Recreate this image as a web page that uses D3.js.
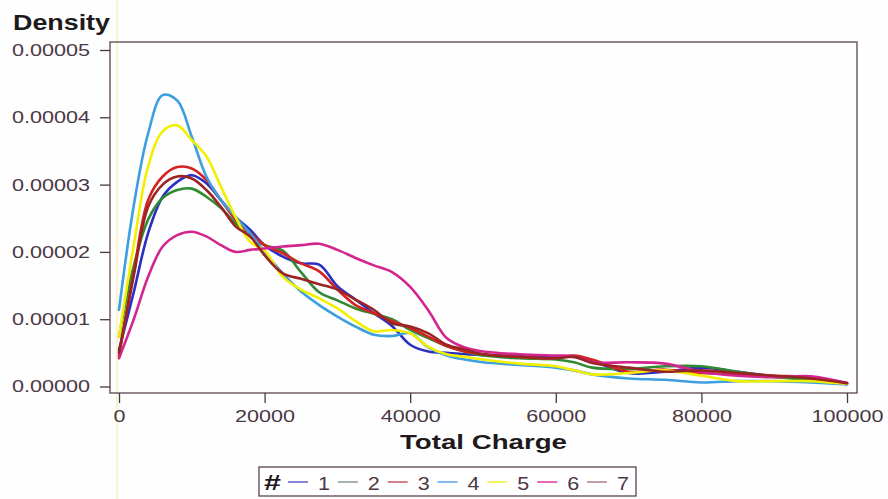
<!DOCTYPE html>
<html><head><meta charset="utf-8">
<script src="https://cdn.jsdelivr.net/npm/d3@7"></script>
<style>body{margin:0;background:#fff}svg{display:block}</style>
</head><body>
<script>
// Data (density values in units of 1e-5)
const xValues = [0,2000,4000,6000,8000,10000,12000,14000,16000,18000,20000,22500,25000,27500,30000,32500,35000,37500,40000,42500,45000,47500,50000,55000,60000,62500,65000,70000,75000,80000,85000,90000,95000,100000];
const series1 = [0.54,1.39,2.28,2.82,3.04,3.14,3.02,2.77,2.52,2.33,2.10,1.93,1.83,1.81,1.49,1.29,1.09,0.90,0.62,0.52,0.50,0.48,0.47,0.45,0.44,0.44,0.38,0.20,0.22,0.28,0.22,0.15,0.10,0.04];
const series2 = [0.74,1.78,2.48,2.80,2.92,2.94,2.82,2.65,2.43,2.23,2.10,2.02,1.70,1.40,1.28,1.16,1.08,1.00,0.84,0.72,0.60,0.52,0.46,0.42,0.40,0.36,0.28,0.26,0.30,0.30,0.22,0.14,0.10,0.04];
const series3 = [0.45,1.68,2.77,3.12,3.26,3.24,3.07,2.77,2.48,2.28,2.10,1.98,1.83,1.71,1.44,1.21,1.09,0.97,0.87,0.74,0.60,0.52,0.48,0.44,0.42,0.46,0.40,0.22,0.25,0.20,0.18,0.16,0.14,0.05];
const series4 = [1.14,2.67,3.76,4.33,4.25,3.71,3.12,2.77,2.52,2.28,2.00,1.68,1.41,1.21,1.04,0.89,0.77,0.75,0.79,0.58,0.46,0.40,0.36,0.32,0.28,0.24,0.18,0.12,0.10,0.06,0.08,0.08,0.06,0.03];
const series5 = [0.74,2.08,3.27,3.79,3.88,3.66,3.42,2.97,2.52,2.15,2.02,1.63,1.44,1.31,1.16,0.97,0.82,0.84,0.79,0.59,0.48,0.44,0.40,0.34,0.30,0.24,0.18,0.20,0.24,0.16,0.08,0.08,0.08,0.04];
const series6 = [0.42,0.99,1.63,2.08,2.25,2.30,2.23,2.10,2.00,2.03,2.05,2.08,2.10,2.12,2.03,1.91,1.80,1.70,1.48,1.13,0.72,0.58,0.52,0.48,0.46,0.45,0.36,0.36,0.34,0.22,0.16,0.14,0.15,0.05];
const series7 = [0.50,1.63,2.67,3.00,3.12,3.09,2.92,2.67,2.38,2.23,1.95,1.68,1.60,1.52,1.44,1.29,1.14,0.94,0.89,0.79,0.62,0.55,0.48,0.44,0.42,0.44,0.35,0.28,0.22,0.24,0.20,0.16,0.12,0.05];
const seriesNames = ["1","2","3","4","5","6","7"];
const seriesColors = ["#2c30c0","#2f8a32","#d42222","#3d9fe0","#f2ef00","#d2268e","#9a2424"];
const legendColors = ["#6a6ad0","#90a090","#d06070","#60a8e8","#f0f040","#e040a8","#b08890"];
const yTicks = [0,0.00001,0.00002,0.00003,0.00004,0.00005];
const xTicks = [0,20000,40000,60000,80000,100000];

const allSeries = [series1,series2,series3,series4,series5,series6,series7];

const W = 888, H = 499;
const svg = d3.select("body").append("svg").attr("width",W).attr("height",H)
  .style("font-family","'Liberation Sans', Arial, sans-serif");
svg.append("rect").attr("width",W).attr("height",H).attr("fill","#fefefe");
// faint scan line artifact
svg.append("line").attr("x1",117).attr("x2",117).attr("y1",0).attr("y2",H)
  .attr("stroke","#f6f2c0").attr("stroke-width",1.5);

const frame = {l:110, r:857, t:42, b:393};
const x = d3.scaleLinear().domain([0,100000]).range([119,847]);
const y = d3.scaleLinear().domain([0,0.00005]).range([386.5,50]);
const axisColor = "#4a3844";

// frame
svg.append("rect").attr("x",frame.l).attr("y",frame.t)
  .attr("width",frame.r-frame.l).attr("height",frame.b-frame.t)
  .attr("fill","none").attr("stroke","#5a4252").attr("stroke-width",1.3);

// y axis
const yAxis = svg.append("g").attr("transform",`translate(${frame.l},0)`)
  .call(d3.axisLeft(y).tickValues(yTicks).tickSize(10).tickPadding(10).tickFormat(d3.format(".5f")));
yAxis.select(".domain").remove();
yAxis.selectAll(".tick line").attr("stroke",axisColor).attr("stroke-width",1.3);
yAxis.selectAll(".tick text").attr("fill",axisColor).attr("font-size",17)
  .attr("textLength",78).attr("lengthAdjust","spacingAndGlyphs");

// x axis
const xAxis = svg.append("g").attr("transform",`translate(0,${frame.b})`)
  .call(d3.axisBottom(x).tickValues(xTicks).tickSize(10).tickPadding(7).tickFormat(d3.format("d")));
xAxis.select(".domain").remove();
xAxis.selectAll(".tick line").attr("stroke",axisColor).attr("stroke-width",1.3);
xAxis.selectAll(".tick text").attr("fill",axisColor).attr("font-size",17)
  .each(function(d){ const n = String(d).length; d3.select(this).attr("textLength",n*12).attr("lengthAdjust","spacingAndGlyphs"); });

// titles
svg.append("text").attr("x",13).attr("y",30).attr("font-weight","bold").attr("font-size",22)
  .attr("fill","#1e1a1c").attr("textLength",97).attr("lengthAdjust","spacingAndGlyphs").text("Density");
svg.append("text").attr("x",400).attr("y",449).attr("font-weight","bold").attr("font-size",21)
  .attr("fill","#1e1a1c").attr("textLength",167).attr("lengthAdjust","spacingAndGlyphs").text("Total Charge");

// curves
const line = d3.line().x((d,i)=>x(xValues[i])).y(d=>y(d*1e-5)).curve(d3.curveCatmullRom.alpha(0.5));
svg.append("g").selectAll("path").data(allSeries).join("path")
  .attr("d",d=>line(d)).attr("fill","none")
  .attr("stroke",(d,i)=>seriesColors[i]).attr("stroke-width",2.6)
  .attr("stroke-linejoin","round").attr("stroke-linecap","round");

// legend
const lg = svg.append("g");
lg.append("rect").attr("x",259).attr("y",467).attr("width",377).attr("height",29)
  .attr("fill","#fff").attr("stroke","#5a4252").attr("stroke-width",1.3);
lg.append("text").attr("x",264).attr("y",490).attr("font-weight","bold").attr("font-size",22)
  .attr("fill","#1e1a1c").attr("textLength",17).attr("lengthAdjust","spacingAndGlyphs").text("#");
const lx = d3.scaleLinear().domain([0,6]).range([288,587]);
seriesNames.forEach((name,i)=>{
  const x0 = lx(i);
  lg.append("line").attr("x1",x0).attr("x2",x0+20).attr("y1",482).attr("y2",482)
    .attr("stroke",legendColors[i]).attr("stroke-width",1.6);
  lg.append("text").attr("x",x0+36).attr("y",490).attr("text-anchor","middle")
    .attr("font-size",19).attr("fill",axisColor)
    .attr("textLength",12).attr("lengthAdjust","spacingAndGlyphs").text(name);
});
</script>
</body></html>
